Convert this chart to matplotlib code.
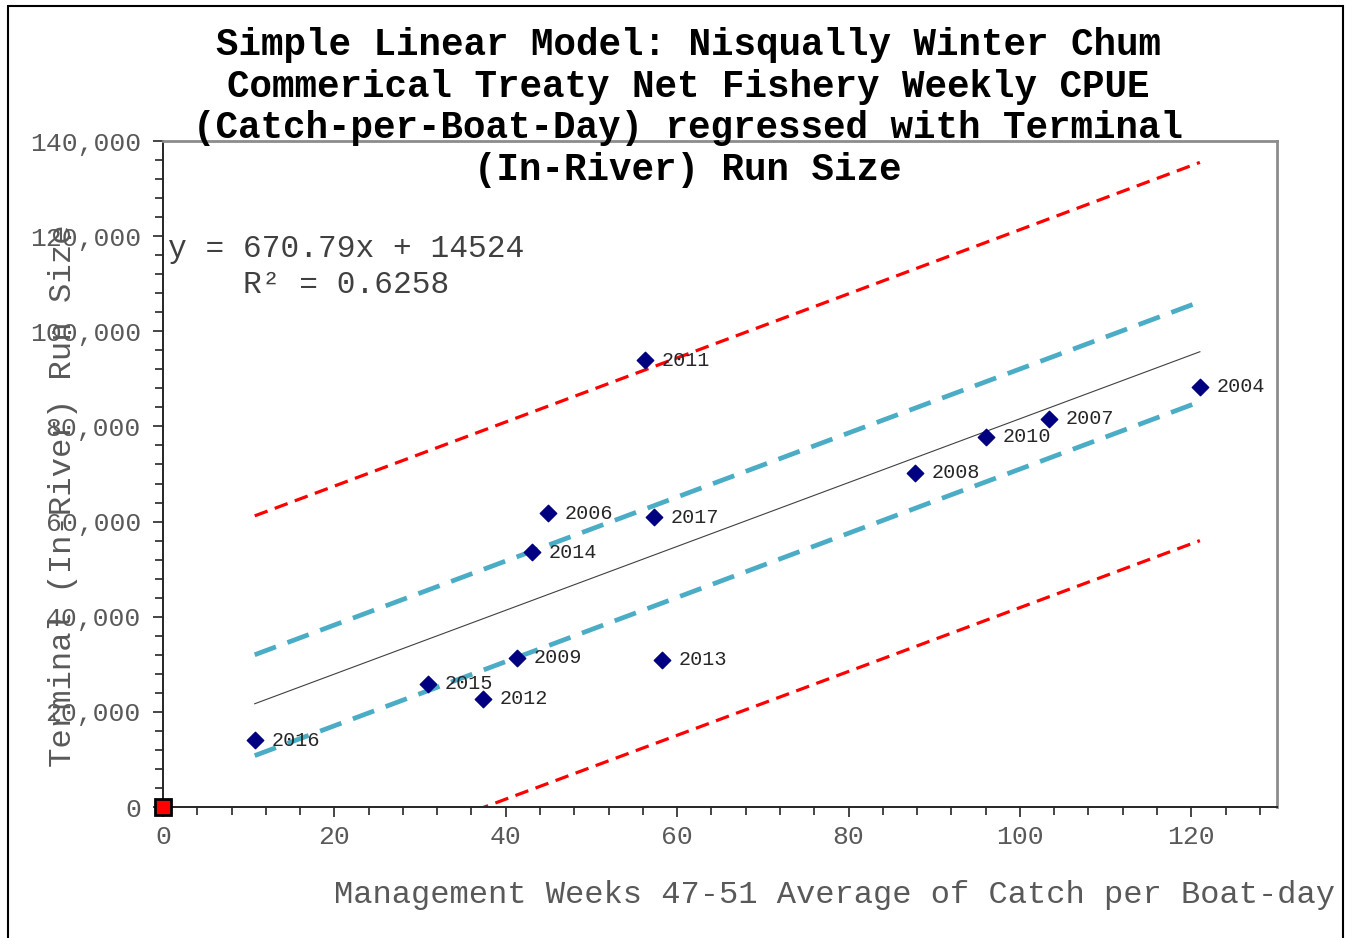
import matplotlib.pyplot as plt
from matplotlib.ticker import MultipleLocator, FuncFormatter
from matplotlib.patches import Rectangle

# data
years = ['2016', '2015', '2012', '2009', '2014', '2006', '2011', '2017', '2013',
         '2008', '2010', '2007', '2004']
cpue = [10.7, 30.9, 37.3, 41.3, 43.1, 44.9, 56.2, 57.3, 58.2, 87.8, 96.0, 103.4, 121.0]
run_size = [14000, 25900, 22800, 31400, 53600, 61700, 93900, 60900, 31000,
            70300, 77800, 81600, 88300]

# fitted line + band end points (at x = 10.7 and x = 121)
line_x = [10.7, 121.0]
fit_y = [21700, 95700]
conf_hi = [32000, 106200]
conf_lo = [10800, 85200]
pred_hi = [61200, 135500]
pred_lo = [-18000, 56000]

font = 'Liberation Mono'
plt.rcParams['font.family'] = [font, 'DejaVu Sans Mono']
grey = '#595959'

fig = plt.figure(figsize=(13.52, 9.38), dpi=100)
ax = fig.add_axes([163/1352, 1-807/938, 1114/1352, 666/938])

ax.plot(line_x, pred_hi, color='#FF0000', lw=2.3, dashes=(4.3, 2.4))
ax.plot(line_x, pred_lo, color='#FF0000', lw=2.3, dashes=(4.3, 2.4))
ax.plot(line_x, conf_hi, color='#4BACC6', lw=3.4, dashes=(4.8, 2.6))
ax.plot(line_x, conf_lo, color='#4BACC6', lw=3.4, dashes=(4.8, 2.6))
ax.plot(line_x, fit_y, color='#404040', lw=0.8)

ax.scatter(cpue, run_size, marker='D', s=70, color='#000080', zorder=5)
for yr, xv, yv in zip(years, cpue, run_size):
    ax.annotate(yr, (xv, yv), xytext=(12, 0), textcoords='offset points',
                va='center', ha='left', fontsize=14.5, color='#262626')

# red square at the origin
ax.plot([0], [0], marker='s', ms=11, color='#FF0000', mec='black', mew=2,
        clip_on=False, zorder=6)

ax.set_xlim(0, 130)
ax.set_ylim(0, 140000)
ax.xaxis.set_major_locator(MultipleLocator(20))
ax.xaxis.set_minor_locator(MultipleLocator(4))
ax.yaxis.set_major_locator(MultipleLocator(20000))
ax.yaxis.set_minor_locator(MultipleLocator(4000))
ax.set_xticks([0, 20, 40, 60, 80, 100, 120])
ax.yaxis.set_major_formatter(FuncFormatter(lambda v, p: f'{int(v):,}'))

ax.tick_params(which='both', direction='out', color='#262626', width=1.2)
ax.tick_params(which='major', length=7, labelsize=19, labelcolor=grey)
ax.tick_params(axis='x', which='major', pad=6)
ax.tick_params(axis='y', which='major', pad=9)
ax.tick_params(which='minor', length=6)

for side in ['left', 'bottom']:
    ax.spines[side].set_color('#262626')
    ax.spines[side].set_linewidth(1.4)
for side in ['top', 'right']:
    ax.spines[side].set_color('#8C8C8C')
    ax.spines[side].set_linewidth(2)

ax.set_xlabel('Management Weeks 47-51 Average of Catch per Boat-day',
              fontsize=23.1, color=grey)
ax.xaxis.set_label_coords(0.603, -0.11)
ax.set_ylabel('Terminal (In-River) Run Size', fontsize=23.3, color=grey)
ax.yaxis.set_label_coords(-0.076, 0.468)

fig.text(346/1352, 1-267/938, 'y = 670.79x + 14524\nR² = 0.6258',
         ha='center', va='center', multialignment='center',
         fontsize=22.5, color='#404040', linespacing=1.3)

fig.text(688/1352, 1-27/938,
         'Simple Linear Model: Nisqually Winter Chum\n'
         'Commerical Treaty Net Fishery Weekly CPUE\n'
         '(Catch-per-Boat-Day) regressed with Terminal\n'
         '(In-River) Run Size',
         ha='center', va='top', fontsize=27, fontweight='bold',
         linespacing=1.2, color='black')

# outer frame of the chart
fig.patches.append(Rectangle((8/1352, -0.01), 1335/1352, 1 - 6/938 + 0.01,
                             transform=fig.transFigure, fill=False,
                             edgecolor='black', lw=1.5))

plt.savefig('out.png', dpi=100)
